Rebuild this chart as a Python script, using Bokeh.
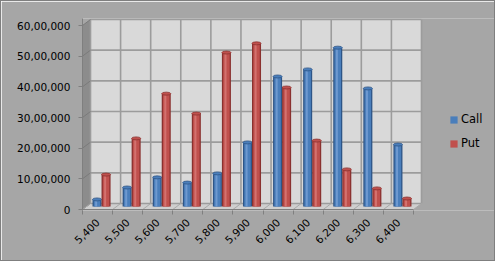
import math
from bokeh.plotting import figure
from bokeh.models import FixedTicker, Legend, LegendItem, Range1d
from bokeh.embed import file_html
from bokeh.resources import INLINE

# ---- data ----
strikes = ["5,400", "5,500", "5,600", "5,700", "5,800", "5,900", "6,000", "6,100", "6,200", "6,300", "6,400"]
call_oi = [230000, 620000, 950000, 780000, 1080000, 2090000, 4240000, 4470000, 5180000, 3850000, 2020000]
put_oi = [1040000, 2220000, 3680000, 3030000, 5020000, 5320000, 3880000, 2150000, 1210000, 590000, 260000]
y_ticks = [0, 1000000, 2000000, 3000000, 4000000, 5000000, 6000000]
y_tick_labels = ["0", "10,00,000", "20,00,000", "30,00,000", "40,00,000", "50,00,000", "60,00,000"]

# ---- geometry / style ----
n = len(strikes)
BG = "#A6A6A6"
WALL = "#D9D9D9"
SIDE = "#8C8C8C"
FLOOR = "#CFCFCF"
GRID = "#9C9C9C"
AXIS = "#7F7F7F"
FONT = "DejaVu Sans"

W, H = 495, 261                         # canvas (plus 1px border each side)
frame_left, frame_right = 82, 496       # page px
frame_top, frame_bottom = 18, 210
zero_px = 209                           # px of value 0 on front plane
wall_left, wall_right = 90, 421
front_top_px = 25                       # px of top tick on front plane
sx = (wall_right - wall_left) / n
sy = (zero_px - front_top_px) / y_ticks[-1]
dxd = (wall_left - frame_left) / sx     # depth offset in data x
dyd = 6 / sy                            # depth offset in data y

x0 = -(wall_left - frame_left) / sx
x1 = (frame_right - wall_left) / sx
y0 = -(frame_bottom - zero_px) / sy
y1 = (zero_px - frame_top) / sy

p = figure(width=W, height=H, output_backend="svg", toolbar_location=None,
           x_range=Range1d(x0, x1), y_range=Range1d(y0, y1),
           min_border_left=frame_left - 1, min_border_right=0,
           min_border_top=frame_top - 1, min_border_bottom=H - (frame_bottom - 1),
           background_fill_color=BG, border_fill_color=BG,
           styles={"border": "1px solid #7F7F7F"})
p.outline_line_color = None
p.xgrid.visible = False
p.ygrid.visible = False

top = y_ticks[-1]
# side wall
p.patch([-dxd, 0, 0, -dxd], [0, dyd, top + dyd, top], fill_color=SIDE, line_color=None)
# floor
p.patch([-dxd, n - dxd, n, 0], [0, 0, dyd, dyd], fill_color=FLOOR, line_color=None)
# back wall
p.quad(left=[0], right=[n], bottom=[dyd], top=[top + dyd], fill_color=WALL, line_color=None)

# gridlines on back wall
p.segment(x0=[0] * len(y_ticks), x1=[n] * len(y_ticks),
          y0=[v + dyd for v in y_ticks], y1=[v + dyd for v in y_ticks],
          line_color=GRID, line_width=1.6)
p.segment(x0=list(range(n + 1)), x1=list(range(n + 1)),
          y0=[dyd] * (n + 1), y1=[top + dyd] * (n + 1), line_color=GRID, line_width=1.6)
# gridlines on side wall
p.segment(x0=[-dxd] * len(y_ticks), x1=[0] * len(y_ticks),
          y0=y_ticks, y1=[v + dyd for v in y_ticks], line_color="#7A7A7A", line_width=1)
# floor lines and front edge
p.segment(x0=[k - dxd for k in range(n + 1)], x1=list(range(n + 1)),
          y0=[0] * (n + 1), y1=[dyd] * (n + 1), line_color="#A8A8A8", line_width=1)
p.segment(x0=[-dxd], x1=[n - dxd], y0=[0], y1=[0], line_color=AXIS, line_width=1)

# bars (cylinders at mid depth)
bw = 0.30
base = dyd / 2
gc = [i + 0.5 - dxd / 2 for i in range(n)]
cx = [c - bw / 2 for c in gc]
px_ = [c + bw / 2 for c in gc]
cap_h = 3 / sy


def cylinder(xs, vals, dark, main, light):
    tops = [v + base for v in vals]
    p.vbar(x=xs, bottom=base, top=tops, width=bw, fill_color=dark, line_color=None)
    r = p.vbar(x=xs, bottom=base, top=tops, width=bw * 0.72, fill_color=main, line_color=None)
    p.vbar(x=[x - bw * 0.1 for x in xs], bottom=base, top=tops, width=bw * 0.22,
           fill_color=light, line_color=None, fill_alpha=0.7)
    p.ellipse(x=xs, y=tops, width=bw, height=cap_h, fill_color=main, line_color=dark, line_width=0.8)
    return r


r_call = cylinder(cx, call_oi, "#2E5587", "#4A7EBB", "#7EA5D8")
r_put = cylinder(px_, put_oi, "#8A312F", "#C0504D", "#DC807D")

# axes
ya = p.yaxis[0]
ya.ticker = FixedTicker(ticks=y_ticks)
ya.major_label_overrides = {v: s for v, s in zip(y_ticks, y_tick_labels)}
ya.axis_line_color = AXIS
ya.major_tick_line_color = AXIS
ya.major_tick_out = 4
ya.major_tick_in = 0
ya.minor_tick_line_color = None
ya.major_label_standoff = 8
ya.major_label_text_font = FONT
ya.major_label_text_font_size = "10.5px"
ya.major_label_text_color = "#000000"

xa = p.xaxis[0]
centers = [i + 0.5 - dxd for i in range(n)]
bounds = [k - dxd for k in range(n + 1)]
xa.ticker = FixedTicker(ticks=centers, minor_ticks=bounds)
xa.major_label_overrides = {c: s for c, s in zip(centers, strikes)}
xa.major_label_orientation = math.pi / 4
xa.axis_line_color = None
xa.major_tick_line_color = None
xa.major_tick_out = 4
xa.major_tick_in = 0
xa.minor_tick_line_color = AXIS
xa.minor_tick_out = 4
xa.minor_tick_in = 0
xa.major_label_standoff = 6
xa.major_label_text_font = FONT
xa.major_label_text_font_size = "10.5px"
xa.major_label_text_color = "#000000"

legend = Legend(items=[LegendItem(label="Call", renderers=[r_call]),
                       LegendItem(label="Put", renderers=[r_put])],
                location=(449 - frame_left, frame_bottom - 152),
                orientation="vertical", padding=0, margin=0, spacing=6,
                glyph_width=9, glyph_height=9, label_height=18, label_standoff=3,
                label_text_font=FONT, label_text_font_size="11.5px",
                label_text_color="#000000",
                background_fill_alpha=0, border_line_color=None)
p.add_layout(legend, "center")

open("out.html", "w").write(file_html(p, INLINE))
